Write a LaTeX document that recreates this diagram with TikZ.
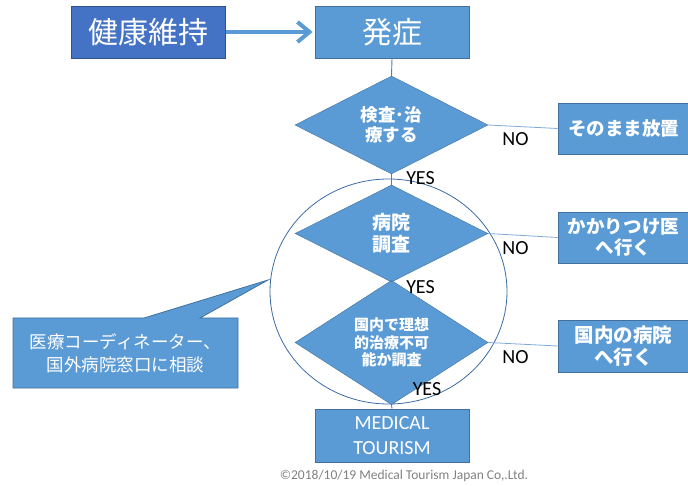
\documentclass[tikz,border=0pt]{standalone}
\usepackage{fontspec}
\setmainfont{Carlito}
\newfontfamily\jp{Noto Sans CJK JP}
\usetikzlibrary{shapes.geometric,arrows.meta}
\definecolor{fillblue}{HTML}{5B9BD5}
\definecolor{edgeblue}{HTML}{41719C}
\definecolor{darkfill}{HTML}{4472C4}
\definecolor{darkedge}{HTML}{2F528F}
\definecolor{linkblue}{HTML}{4A7EBB}
\definecolor{nolink}{HTML}{7FAAD8}
\definecolor{circblue}{HTML}{3A6BA5}
\definecolor{copygray}{HTML}{808080}
\tikzset{
  x=1pt, y=-1pt,
  boxbase/.style={draw=edgeblue, line width=0.8pt, fill=fillblue, text=white, inner sep=0pt, align=center},
  topbox/.style={boxbase, minimum width=154pt, minimum height=52pt},
  sidebox/.style={boxbase, minimum width=131pt, minimum height=51pt},
  decision/.style={diamond, draw=edgeblue, line width=0.4pt, fill=fillblue, text=white, inner sep=0pt,
    minimum width=193pt, minimum height=96pt, align=center, font=\jp\bfseries},
  vlink/.style={draw=linkblue, line width=0.9pt},
  nolinkst/.style={draw=nolink, line width=0.8pt},
  lbl/.style={font=\fontsize{20}{22}\selectfont, text=black, inner sep=0pt},
}
\begin{document}
\begin{tikzpicture}
\useasboundingbox (0,0) rectangle (688,486);
% top row
\node[boxbase, fill=darkfill, draw=darkedge, minimum width=154pt, minimum height=52pt,
  font=\jp\fontsize{30}{34}\selectfont] (health) at (148.5,32) {健康維持};
\node[topbox, font=\jp\fontsize{30}{34}\selectfont] (onset) at (392,32) {発症};
\draw[draw=fillblue, line width=4pt, -{Straight Barb[length=12pt, width=20pt, line width=4pt]}, shorten >=2pt]
  (health.east) -- (onset.west);
% circle
\node[ellipse, draw=circblue, line width=0.8pt, minimum width=237pt, minimum height=225pt, inner sep=0pt]
  (circ) at (388.5,291.5) {};
% decisions
\node[decision, font=\jp\bfseries\fontsize{17.5}{20}\selectfont] (d1) at (391.5,125) {検査･治\\療する};
\node[decision, minimum height=97pt, font=\jp\bfseries\fontsize{19}{22}\selectfont] (d2) at (391.5,233.5) {病院\\調査};
\node[decision, minimum height=95pt, font=\jp\bfseries\fontsize{15}{17.5}\selectfont] (d3) at (391.5,342.5) {国内で理想\\的治療不可\\能か調査};
% side boxes
\node[sidebox, font=\jp\bfseries\fontsize{18.5}{21.5}\selectfont] (leave) at (623.5,128.5) {そのまま放置};
\node[sidebox, font=\jp\bfseries\fontsize{18.5}{21.5}\selectfont] (gp) at (623.5,237.5) {かかりつけ医\\へ行く};
\node[sidebox, minimum height=52pt, font=\jp\bfseries\fontsize{19.5}{22}\selectfont] (dom) at (623.5,346) {国内の病院\\へ行く};
% medical tourism
\node[topbox, minimum height=53pt, font=\fontsize{20}{25}\selectfont] (mt) at (392,435.5) {MEDICAL\\TOURISM};
% vertical links
\draw[vlink] (onset.south) -- (d1.north);
\draw[vlink] (d1.south) -- (d2.north);
\draw[vlink] (d2.south) -- (d3.north);
\draw[vlink] (d3.south) -- (mt.north);
% no links
\draw[nolinkst] (d1.east) -- (leave.west);
\draw[nolinkst] (d2.east) -- (gp.west);
\draw[nolinkst] (d3.east) -- (dom.west);
% labels
\node[lbl] (no1) at (515.5,139) {NO};
\node[lbl] (no2) at (515.5,248) {NO};
\node[lbl] (no3) at (515.5,357.5) {NO};
\node[lbl] (yes1) at (420.5,178) {YES};
\node[lbl] (yes2) at (420.5,287) {YES};
\node[lbl] (yes3) at (427,389) {YES};
% callout
\coordinate (tip) at (268,280);
\draw[draw=edgeblue, line width=0.8pt, fill=fillblue]
  (13,318) -- (144,318) -- (tip) -- (200,318) -- (238,318) -- (238,388) -- (13,388) -- cycle;
\node[text=white, align=center, inner sep=0pt, font=\jp\fontsize{17.5}{23}\selectfont] (call) at (125.5,353)
  {医療コーディネーター、\\国外病院窓口に相談};
% copyright
\node[text=copygray, inner sep=0pt, font=\fontsize{13.5}{15}\selectfont] (copy) at (404,476)
  {©2018/10/19 Medical Tourism Japan Co,.Ltd.};
\end{tikzpicture}
\end{document}
